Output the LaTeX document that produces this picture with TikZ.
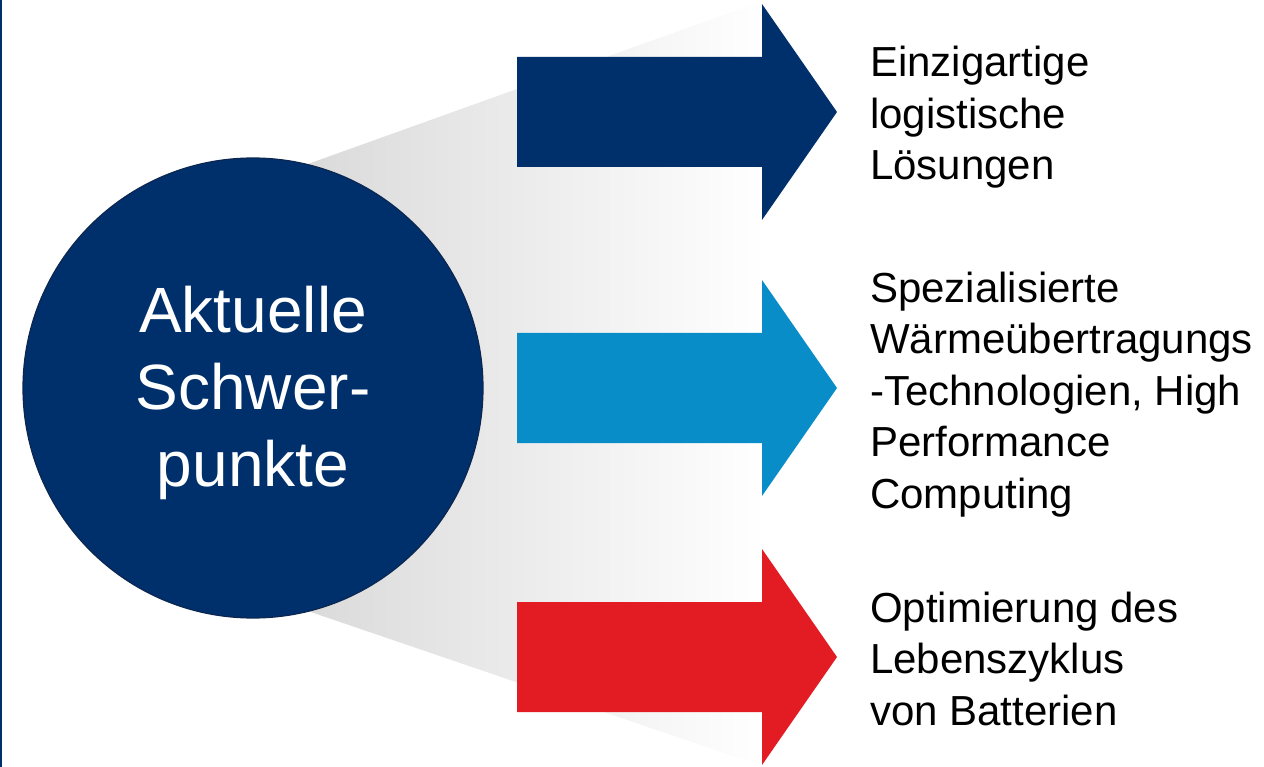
\documentclass[tikz,border=0pt]{standalone}
\usepackage{fontspec}
\setmainfont{Liberation Sans}
\usetikzlibrary{positioning}

\definecolor{darkblue}{RGB}{0,48,108}
\definecolor{lightblue}{RGB}{8,141,200}
\definecolor{brightred}{RGB}{227,28,36}
\definecolor{fadegray}{RGB}{214,214,214}
\definecolor{rimblue}{RGB}{12,38,80}

\begin{document}
\begin{tikzpicture}[x=1pt,y=-1pt]
    \tikzset{
        focus/.style    =   { circle
                            , fill=darkblue
                            , draw=rimblue
                            , line width=1.2pt
                            , minimum size=460pt
                            , inner sep=0pt
                            }
        , focustext/.style = { text=white
                            , align=center
                            , inner sep=0pt
                            , font=\fontsize{64}{77}\selectfont
                            }
        , itemtext/.style = { anchor=base west
                            , align=left
                            , inner sep=0pt
                            , font=\fontsize{42}{51.5}\selectfont
                            }
    }
    \useasboundingbox (0,0) rectangle (1264,767);

    % thin rule at the left edge
    \draw[darkblue, line width=1.5pt] (0.75,0) -- (0.75,767);

    % grey fan behind the circle
    \shade[left color=fadegray, right color=white]
        (255,183) -- (765,0) -- (765,767) -- (255,593) -- cycle;

    \node(focus)[focus] at (253,388) {};
    \node(focustitle)[focustext] at (253,393) {Aktuelle\\Schwer-\\punkte};

    % the three arrows
    \fill[darkblue]  (517,57)  -- (762,57)  -- (762,4)   -- (837,112)
                     -- (762,220) -- (762,167) -- (517,167) -- cycle;
    \fill[lightblue] (517,333) -- (762,333) -- (762,280) -- (837,388)
                     -- (762,496) -- (762,443) -- (517,443) -- cycle;
    \fill[brightred] (517,602) -- (762,602) -- (762,549) -- (837,657)
                     -- (762,765) -- (762,712) -- (517,712) -- cycle;

    % base anchor sits on the last line
    \node(logistics)[itemtext] at (870,180) {Einzigartige\\logistische\\Lösungen};
    \node(thermal)[itemtext] at (870,508) {Spezialisierte\\Wärmeübertragungs\\-Technologien, High\\Performance\\Computing};
    \node(battery)[itemtext] at (870,725) {Optimierung des\\Lebenszyklus\\von Batterien};
\end{tikzpicture}
\end{document}
